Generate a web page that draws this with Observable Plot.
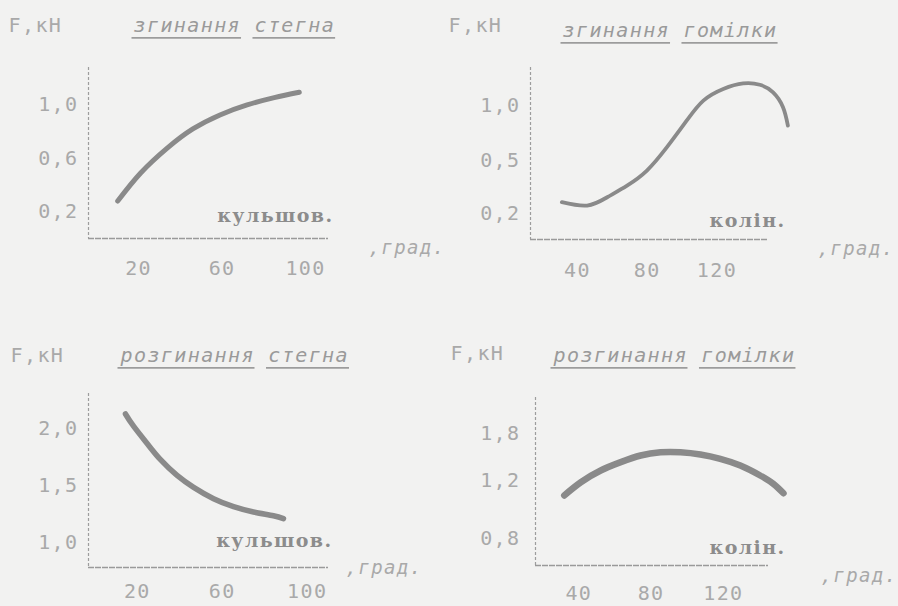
<!DOCTYPE html>
<html>
<head>
<meta charset="utf-8">
<script src="https://cdn.jsdelivr.net/npm/d3@7"></script>
<script src="https://cdn.jsdelivr.net/npm/@observablehq/plot@0.6"></script>
<style>
  html, body { margin: 0; padding: 0; background: #f2f2f1; }
  #wrap { position: relative; width: 898px; height: 606px; overflow: hidden; background: #f2f2f1; }
</style>
</head>
<body>
<div id="wrap"></div>
<script>
// ---- data ----
const unitLabel = "F,кН";
const xUnitLabel = ",град.";

// top-left: згинання стегна (hip flexion)
const hipFlexTitle = "згинання стегна";
const hipFlexJoint = "кульшов.";
const hipFlexAngle = [10, 21, 34, 46, 59, 72, 85, 97];
const hipFlexForce = [0.28, 0.49, 0.68, 0.82, 0.925, 1.0, 1.055, 1.095];
const hipFlexXTicks = [20, 60, 100];
const hipFlexYTicks = [0.2, 0.6, 1.0];

// top-right: згинання гомілки (knee flexion)
const kneeFlexTitle = "згинання гомілки";
const kneeFlexJoint = "колін.";
const kneeFlexAngle = [31, 45.5, 57, 68.4, 79.8, 91.3, 102.7, 112.2, 123.6, 135, 144.6, 152.2, 157.9, 160.7];
const kneeFlexForce = [0.264, 0.245, 0.292, 0.358, 0.443, 0.621, 0.864, 1.045, 1.152, 1.203, 1.191, 1.121, 0.985, 0.818];
const kneeFlexXTicks = [40, 80, 120];
const kneeFlexYTicks = [0.2, 0.5, 1.0];

// bottom-left: розгинання стегна (hip extension)
const hipExtTitle = "розгинання стегна";
const hipExtJoint = "кульшов.";
const hipExtAngle = [14.4, 18.3, 24.6, 30.8, 38.7, 46.5, 55.9, 65.3, 74.7, 84.1, 88.8];
const hipExtForce = [2.13, 2.02, 1.87, 1.73, 1.59, 1.485, 1.385, 1.315, 1.268, 1.235, 1.21];
const hipExtXTicks = [20, 60, 100];
const hipExtYTicks = [1.0, 1.5, 2.0];

// bottom-right: розгинання гомілки (knee extension)
const kneeExtTitle = "розгинання гомілки";
const kneeExtJoint = "колін.";
const kneeExtAngle = [31.9, 41.1, 52.1, 63.2, 74.2, 85.2, 96.3, 107.3, 118.3, 129.4, 140.4, 147.7, 153.3];
const kneeExtForce = [1.097, 1.188, 1.328, 1.434, 1.519, 1.561, 1.561, 1.532, 1.477, 1.391, 1.264, 1.177, 1.112];
const kneeExtXTicks = [40, 80, 120];
const kneeExtYTicks = [0.8, 1.2, 1.8];

// ---- rendering ----
const MONO = "'DejaVu Sans Mono', 'Liberation Mono', monospace";
const INK = "#a9a9a9";
const CURVE = "#8a8a8a";
const fmt = d => d.toFixed(1).replace(".", ",");

function panel(cfg) {
  // the hand-typed axes of the right-hand charts are not evenly spaced:
  // a piecewise-linear warp reproduces the printed tick spacing
  const w = cfg.warp
    ? d3.scaleLinear().domain(cfg.warp[0]).range(cfg.warp[1])
    : (v => v);
  const data = cfg.angle.map((a, i) => ({angle: a, force: w(cfg.force[i])}));
  const yTickPos = cfg.yTicks.map(w);
  const yLabel = new Map(yTickPos.map((p, i) => [p, fmt(cfg.yTicks[i])]));
  const y0 = w(cfg.yDomain[0]);
  const svg = Plot.plot({
    width: 449,
    height: 303,
    marginLeft: cfg.m[3],
    marginTop: cfg.m[0],
    marginRight: cfg.m[1],
    marginBottom: cfg.m[2],
    style: {background: "transparent", fontFamily: MONO, overflow: "visible"},
    x: {domain: cfg.xDomain},
    y: {domain: [y0, w(cfg.yDomain[1])]},
    marks: [
      Plot.ruleX([cfg.xDomain[0]], {stroke: "#9d9d9d", strokeWidth: 1.2, strokeDasharray: "3,2"}),
      Plot.ruleY([y0], {stroke: "#9a9a9a", strokeWidth: 1.4, strokeDasharray: "6,1"}),
      Plot.axisY({ticks: yTickPos, tickFormat: d => yLabel.get(d), tickSize: 0, tickPadding: cfg.yPad,
        fontSize: 20, fill: INK, label: null, fontFamily: MONO}),
      Plot.axisX({ticks: cfg.xTicks, tickSize: 0, tickPadding: cfg.xPad,
        fontSize: 20, fill: INK, label: null, fontFamily: MONO}),
      Plot.line(data, {x: "angle", y: "force", curve: "natural",
        stroke: CURVE, strokeWidth: cfg.sw, strokeLinecap: "round"}),
      Plot.text([unitLabel], {frameAnchor: "top-left", dx: cfg.unit[0], dy: cfg.unit[1],
        textAnchor: "start", lineAnchor: "middle", fontSize: 20, fill: INK, fontFamily: MONO}),
      Plot.text([cfg.title], {frameAnchor: "top-left", dx: cfg.ttl[0], dy: cfg.ttl[1],
        textAnchor: "start", lineAnchor: "middle", fontSize: 20, fontStyle: "italic",
        fill: "#9a9a9a", fontFamily: MONO}),
      Plot.text([cfg.joint], {frameAnchor: "bottom-right", dx: cfg.jnt[0], dy: cfg.jnt[1],
        textAnchor: "end", lineAnchor: "middle", fontSize: 19, fontWeight: "bold",
        fill: "#8c8c8c", fontFamily: "'DejaVu Serif', serif"}),
      Plot.text([xUnitLabel], {frameAnchor: "bottom-right", dx: cfg.xu[0], dy: cfg.xu[1],
        textAnchor: "start", lineAnchor: "middle", fontSize: 19, fontStyle: "italic",
        fill: INK, fontFamily: MONO})
    ]
  });
  d3.select(svg).selectAll("text").attr("letter-spacing", "1.4px");
  svg.style.left = cfg.left + "px";
  svg.style.top = cfg.top + "px";
  svg.style.position = "absolute";
  document.getElementById("wrap").appendChild(svg);
  // underline each word of the title, as typed in the original
  d3.select(svg).selectAll("text").filter(function() { return this.textContent === cfg.title; })
    .each(function() {
      const t = this;
      const str = t.textContent;
      const box = t.getBBox();
      const n = str.length;
      const cw = box.width / n;
      const yy = box.y + box.height + 1;
      const g = d3.select(t.parentNode).append("g")
        .attr("stroke", "#9c9c9c").attr("stroke-width", 1.6).attr("fill", "none");
      const tr = t.getAttribute("transform");
      if (tr) g.attr("transform", tr);
      let i = 0;
      while (i < n) {
        if (str[i] === " ") { i++; continue; }
        let j = i;
        while (j < n && str[j] !== " ") j++;
        g.append("line")
          .attr("x1", box.x + i * cw - 2).attr("x2", box.x + j * cw)
          .attr("y1", yy).attr("y2", yy);
        i = j;
      }
    });
}

panel({
  left: 0, top: 0, m: [67, 121, 65, 88],
  xDomain: [-4, 111], yDomain: [0, 1.28],
  angle: hipFlexAngle, force: hipFlexForce, xTicks: hipFlexXTicks, yTicks: hipFlexYTicks,
  title: hipFlexTitle, joint: hipFlexJoint, sw: 5, yPad: 10, xPad: 22,
  unit: [-80, -42], ttl: [45, -42], jnt: [5, -23], xu: [40, 9]
});
panel({
  left: 449, top: 0, m: [67, 131, 64, 81],
  xDomain: [13, 149], yDomain: [0.05, 1.35],
  warp: [[0.05, 0.2, 0.5, 1.0, 1.35], [0, 26, 79, 134, 172]],
  angle: kneeFlexAngle, force: kneeFlexForce, xTicks: kneeFlexXTicks, yTicks: kneeFlexYTicks,
  title: kneeFlexTitle, joint: kneeFlexJoint, sw: 3.8, yPad: 10, xPad: 23,
  unit: [-82, -42], ttl: [32, -37], jnt: [18, -19], xu: [50, 9]
});
panel({
  left: 0, top: 303, m: [90, 121, 39, 88],
  xDomain: [-3, 110], yDomain: [0.78, 2.31],
  angle: hipExtAngle, force: hipExtForce, xTicks: hipExtXTicks, yTicks: hipExtYTicks,
  title: hipExtTitle, joint: hipExtJoint, sw: 5.5, yPad: 10, xPad: 16,
  unit: [-78, -38], ttl: [32, -38], jnt: [4, -27], xu: [17, 0]
});
panel({
  left: 449, top: 303, m: [94, 130, 41, 86],
  xDomain: [16, 145], yDomain: [0.61, 2.26],
  warp: [[0.61, 0.8, 1.2, 1.8, 2.26], [0, 27, 85, 132, 168]],
  angle: kneeExtAngle, force: kneeExtForce, xTicks: kneeExtXTicks, yTicks: kneeExtYTicks,
  title: kneeExtTitle, joint: kneeExtJoint, sw: 6.5, yPad: 15, xPad: 20,
  unit: [-85, -44], ttl: [18, -42], jnt: [17, -18], xu: [52, 10]
});
</script>
</body>
</html>
